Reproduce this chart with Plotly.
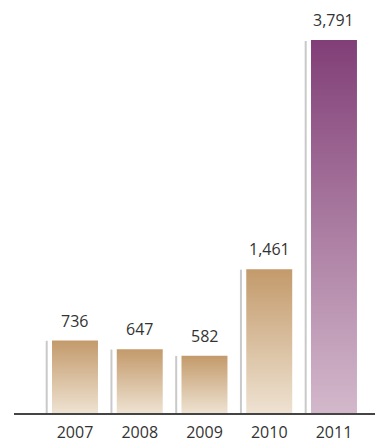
import plotly.graph_objects as go

years = ["2007", "2008", "2009", "2010", "2011"]
values = [736, 647, 582, 1461, 3791]
labels = ["736", "647", "582", "1,461", "3,791"]

tan_top, tan_bottom = "#c39a6b", "#eee2d1"
purple_top, purple_bottom = "#813f77", "#d3b8cb"

half_w = 0.355
gray_off = 0.437

fig = go.Figure()
for i, (y, v) in enumerate(zip(years, values)):
    top, bottom = (purple_top, purple_bottom) if i == len(values) - 1 else (tan_top, tan_bottom)
    # gray side line
    fig.add_trace(go.Scatter(
        x=[i - gray_off, i - gray_off], y=[0, v * 0.997], mode="lines",
        line=dict(color="#c9c9c9", width=2), hoverinfo="skip", showlegend=False))
    # gradient bar
    fig.add_trace(go.Scatter(
        x=[i - half_w, i + half_w, i + half_w, i - half_w, i - half_w],
        y=[0, 0, v, v, 0], mode="lines", fill="toself",
        line=dict(width=0, color="rgba(0,0,0,0)"),
        fillgradient=dict(type="vertical", colorscale=[[0, bottom], [1, top]]),
        hoverinfo="skip", showlegend=False))
    fig.add_annotation(x=i, y=v, text=labels[i], showarrow=False, yanchor="bottom",
                       yshift=7, font=dict(family="Open Sans", size=16, color="#333333"))

fig.update_layout(
    width=375, height=437,
    margin=dict(l=6, r=0, t=0, b=32),
    plot_bgcolor="white", paper_bgcolor="white",
    xaxis=dict(range=[-0.942, 4.757], tickmode="array", tickvals=list(range(len(years))),
               ticktext=years, showgrid=False, zeroline=False, showline=True,
               linecolor="#444444", linewidth=1.5, ticks="", ticklabelstandoff=4,
               tickfont=dict(family="Open Sans", size=16, color="#333333")),
    yaxis=dict(range=[0, 4116], visible=False, showgrid=False, zeroline=False),
)
fig.write_html("out.html")
